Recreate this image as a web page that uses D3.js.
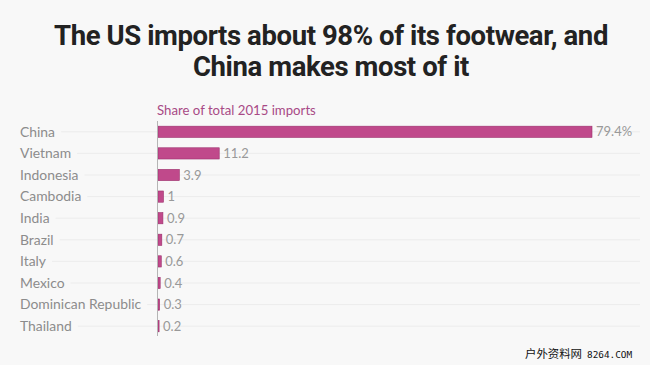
<!DOCTYPE html>
<html><head><meta charset="utf-8">
<script src="https://cdn.jsdelivr.net/npm/d3@7"></script>
<style>
html,body{margin:0;padding:0;background:#f8f8f8;}
svg{display:block;}
</style></head>
<body>
<svg id="chart" width="650" height="365"></svg>
<script>
const countries = ["China","Vietnam","Indonesia","Cambodia","India","Brazil","Italy","Mexico","Dominican Republic","Thailand"];
const shares = [79.4,11.2,3.9,1,0.9,0.7,0.6,0.4,0.3,0.2];
const valueLabels = ["79.4%","11.2","3.9","1","0.9","0.7","0.6","0.4","0.3","0.2"];
const titleLines = ["The US imports about 98% of its footwear, and","China makes most of it"];
const subtitle = "Share of total 2015 imports";

const svg = d3.select("#chart");
svg.append("rect").attr("width",650).attr("height",365).attr("fill","#f8f8f8");

const x = d3.scaleLinear().domain([0,79.4]).range([158,592]);
const y = d3.scaleBand().domain(countries).range([121,337]).paddingInner(0.48).paddingOuter(0.24);

svg.selectAll(".title").data(titleLines).enter().append("text")
  .attr("x",331).attr("y",(d,i)=>44.5+i*31.5)
  .attr("text-anchor","middle")
  .attr("font-family","Roboto, 'Noto Sans', sans-serif")
  .attr("font-weight",700).attr("font-size",27.5).attr("letter-spacing",-0.4)
  .attr("fill","#222").text(d=>d);

svg.append("text").attr("x",157).attr("y",115)
  .attr("font-family","Lato, 'Open Sans', sans-serif").attr("font-size",13.2)
  .attr("fill","#a84a86").text(subtitle);

const rows = svg.selectAll(".row").data(countries).enter().append("g");

const labels = rows.append("text").attr("x",20)
  .attr("y",d=>y(d)+y.bandwidth()/2).attr("dy","0.35em")
  .attr("font-family","Lato, 'Open Sans', sans-serif").attr("font-size",13.9)
  .attr("fill","#8c8c8c").text(d=>d);

labels.each(function(d){
  const w = this.getComputedTextLength();
  svg.insert("line","text").attr("x1",20+w+6).attr("x2",640)
    .attr("y1",y(d)+y.bandwidth()/2).attr("y2",y(d)+y.bandwidth()/2)
    .attr("stroke","#ececec").attr("stroke-width",1);
});

svg.selectAll(".bar").data(shares).enter().append("rect")
  .attr("x",x(0)).attr("y",(d,i)=>y(countries[i]))
  .attr("width",d=>x(d)-x(0)).attr("height",y.bandwidth())
  .attr("fill","#c0498b").attr("stroke","#9c2f6d").attr("stroke-width",0.6);

svg.selectAll(".val").data(shares).enter().append("text")
  .attr("x",d=>x(d)+4).attr("y",(d,i)=>y(countries[i])+y.bandwidth()/2).attr("dy","0.35em")
  .attr("font-family","Lato, 'Open Sans', sans-serif").attr("font-size",13)
  .attr("fill","#999").text((d,i)=>valueLabels[i]);

svg.append("line").attr("x1",157.5).attr("x2",157.5).attr("y1",121).attr("y2",336)
  .attr("stroke","#b5b5b5").attr("stroke-width",1);

svg.append("text").attr("x",525).attr("y",358)
  .attr("font-family","'Noto Sans CJK SC', sans-serif").attr("font-size",11.4)
  .attr("fill","#111").text("户外资料网");
svg.append("text").attr("x",587).attr("y",358)
  .attr("font-family","'DejaVu Sans Mono', monospace").attr("font-size",9.4)
  .attr("fill","#111").text("8264.COM");
</script>
</body></html>
